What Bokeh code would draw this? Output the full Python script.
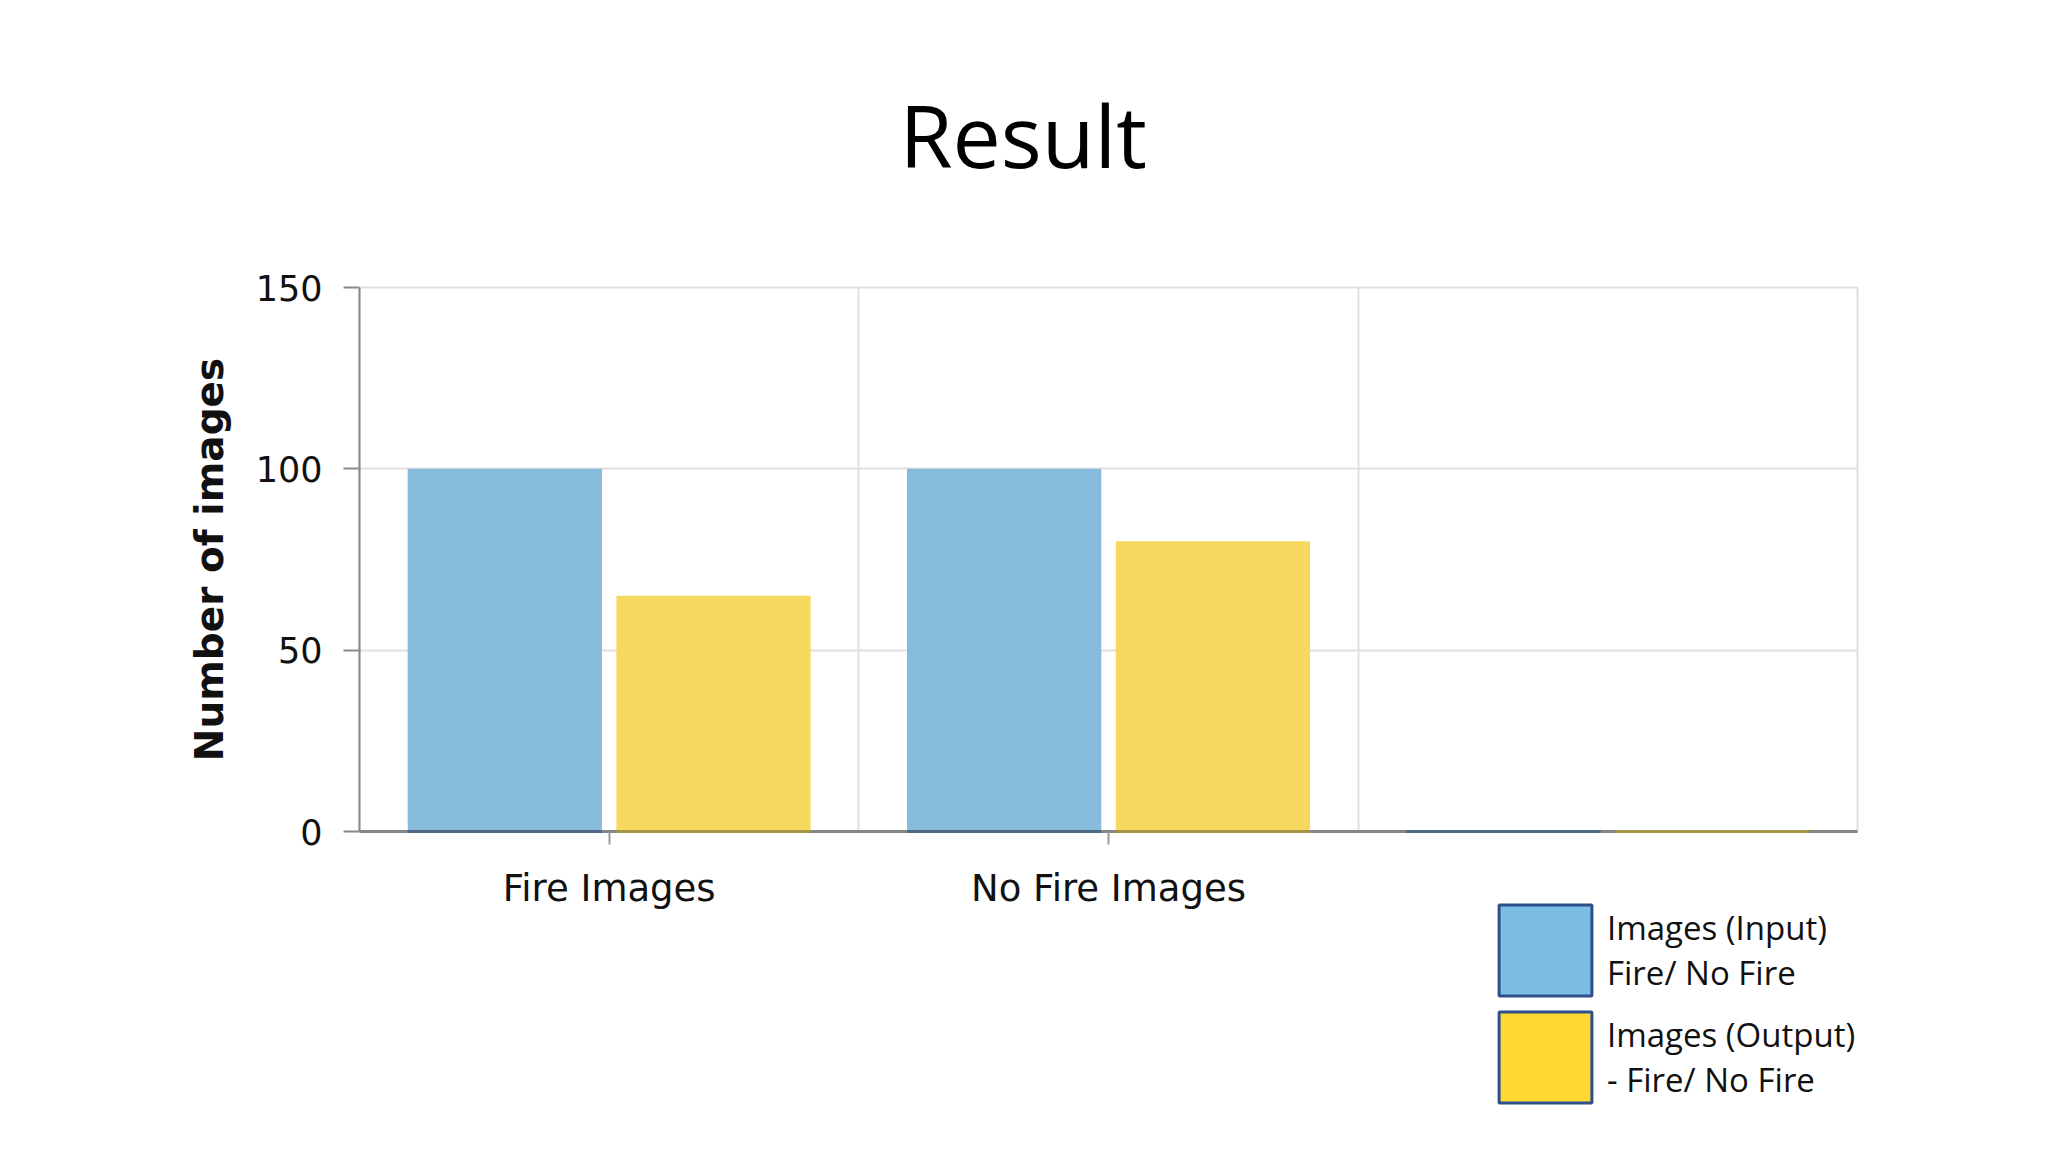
from bokeh.plotting import figure
from bokeh.models import (Range1d, FixedTicker, ColumnDataSource, Legend,
                          LegendItem, Title)
from bokeh.layouts import column
from bokeh.transform import dodge
from bokeh.core.properties import value
from bokeh.embed import file_html
from bokeh.resources import INLINE
import numpy as np

# ---- data ----
categories = ["Fire Images", "No Fire Images", ""]
images_input = [100, 100, 0]
images_output = [65, 80, 0]
y_ticks = [0, 50, 100, 150]
series_names = ["Images (Input)\nFire/ No Fire", "Images (Output)\n- Fire/ No Fire"]
title_text = "Result"
y_label = "Number of images"

W = 2032
H_MAIN = 918
H_LEG = 240

p = figure(width=W, height=H_MAIN, output_backend="svg", toolbar_location=None,
           x_range=Range1d(0, len(categories)), y_range=Range1d(0, 150),
           min_border_left=359, min_border_right=175, min_border_top=287,
           min_border_bottom=87)
p.outline_line_color = "#E0E0E0"
p.outline_line_width = 2
p.background_fill_color = "white"
p.border_fill_color = "white"

pos = np.arange(len(categories)) + 0.5
src = ColumnDataSource(dict(x=pos, inp=images_input, out=images_output,
                            zero=[0] * len(categories)))

bw = 0.389
off = 0.209
p.vbar(x=dodge("x", -off), top="inp", width=bw, source=src,
       fill_color="#86BBDC", line_color=None)
p.vbar(x=dodge("x", off), top="out", width=bw, source=src,
       fill_color="#F6D95E", line_color=None)
# dark base edges of the bars
p.vbar(x=dodge("x", -off), top="zero", bottom="zero", width=bw, source=src,
       fill_color=None, line_color="#4E6A86", line_width=3, level="overlay")
p.vbar(x=dodge("x", off), top="zero", bottom="zero", width=bw, source=src,
       fill_color=None, line_color="#A39446", line_width=3, level="overlay")

# ---- axes ----
xticks = [float(v) for v, c in zip(pos, categories) if c]
p.xaxis.ticker = FixedTicker(ticks=xticks)
p.xaxis.major_label_overrides = {float(v): c for v, c in zip(pos, categories) if c}
p.xaxis.axis_line_color = "#858585"
p.xaxis.axis_line_width = 3
p.xaxis.major_tick_out = 13
p.xaxis.major_tick_in = 0
p.xaxis.major_tick_line_color = "#999999"
p.xaxis.major_tick_line_width = 2
p.xaxis.minor_tick_line_color = None
p.xaxis.major_label_text_font = "DejaVu Sans"
p.xaxis.major_label_text_font_size = "37px"
p.xaxis.major_label_text_color = "#111111"
p.xaxis.major_label_standoff = 22

p.yaxis.ticker = FixedTicker(ticks=y_ticks)
p.yaxis.axis_line_color = "#8A8A8A"
p.yaxis.axis_line_width = 2
p.yaxis.major_tick_out = 16
p.yaxis.major_tick_in = 0
p.yaxis.major_tick_line_color = "#8A8A8A"
p.yaxis.major_tick_line_width = 2
p.yaxis.minor_tick_line_color = None
p.yaxis.major_label_text_font = "DejaVu Sans"
p.yaxis.major_label_text_font_size = "35px"
p.yaxis.major_label_text_color = "#111111"
p.yaxis.major_label_standoff = 21
p.yaxis.axis_label = y_label
p.yaxis.axis_label_text_font = "DejaVu Sans"
p.yaxis.axis_label_text_font_style = "bold"
p.yaxis.axis_label_text_font_size = "39px"
p.yaxis.axis_label_text_color = "#111111"
p.yaxis.axis_label_standoff = 21

p.xgrid.ticker = FixedTicker(ticks=list(range(1, len(categories) + 1)))
p.xgrid.grid_line_color = "#E0E0E0"
p.xgrid.grid_line_width = 2
p.ygrid.ticker = FixedTicker(ticks=y_ticks[1:])
p.ygrid.grid_line_color = "#E0E0E0"
p.ygrid.grid_line_width = 2

# ---- title (spacer title keeps it away from the frame) ----
p.add_layout(Title(text=" ", text_font_size="70px"), "above")
p.title.text = title_text
p.title.align = "left"
p.title.offset = 540
p.title.text_font = "Open Sans"
p.title.text_font_style = "normal"
p.title.text_font_size = "86px"
p.title.text_color = "black"

# ---- legend figure (transparent strip under the chart; frame aligned to chart) ----
lf = figure(width=W, height=H_LEG, output_backend="svg", toolbar_location=None,
            x_axis_type=None, y_axis_type=None,
            x_range=Range1d(0, 1), y_range=Range1d(0, 1),
            min_border_left=0, min_border_right=0, min_border_top=0,
            min_border_bottom=0)
lf.outline_line_color = None
lf.background_fill_alpha = 0
lf.border_fill_alpha = 0
lf.margin = (-30, 0, 0, 0)

leg_in = lf.vbar(x="x", top="inp", width=bw, source=src, fill_color="#7BBDE3",
                 line_color="#2E4F8C", line_width=3, visible=False)
leg_out = lf.vbar(x="x", top="out", width=bw, source=src, fill_color="#FFD833",
                  line_color="#2E4F8C", line_width=3, visible=False)
for r, name, vy in [(leg_in, series_names[0], 121), (leg_out, series_names[1], 14)]:
    lg = Legend(items=[LegendItem(label=value(name), renderers=[r])],
                location=(1128, vy), glyph_width=116, glyph_height=114,
                label_standoff=4, padding=0, margin=0, spacing=0,
                border_line_color=None, background_fill_alpha=0,
                inactive_fill_alpha=0,
                label_text_font="Open Sans", label_text_font_size="33px",
                label_text_line_height=1.28, label_text_color="#111111")
    lf.add_layout(lg, "center")

layout = column(p, lf, spacing=0)

open("out.html", "w").write(file_html(layout, INLINE))
